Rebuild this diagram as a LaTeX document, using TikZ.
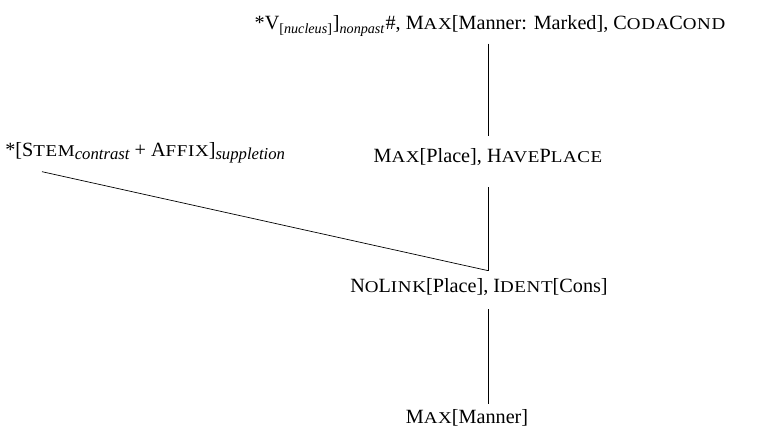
\documentclass[tikz,border=0pt]{standalone}
\usepackage{fontspec}
\setmainfont{Liberation Serif}
\newfontfamily\scpart[FakeStretch=1.15,LetterSpace=4]{Liberation Serif}
\usetikzlibrary{positioning}

% fake small caps: first letter full size, rest smaller
\newcommand{\fsc}[2]{#1{\scpart\fontsize{9.4}{10}\selectfont #2}}
% bigger italic subscript
\newcommand{\bsub}[1]{\raisebox{-0.3ex}{\fontsize{9.5}{10}\selectfont\itshape #1}}

\begin{document}
\begin{tikzpicture}[x=0.02cm, y=-0.02cm, every node/.style={inner sep=0pt, font=\fontsize{11.5}{13}\selectfont}]
\useasboundingbox (0,0) rectangle (760,432);
\node[anchor=base] (top) at (490,30) {*V\textsubscript{[\textit{nucleus}]}]\textsubscript{\textit{nonpast}}\#, \fsc{M}{AX}[Manner: Marked], \fsc{C}{ODA}\fsc{C}{OND}};
\node[anchor=base] (place) at (488,163) {\fsc{M}{AX}[Place], \fsc{H}{AVE}\fsc{P}{LACE}};
\node[anchor=base west] (supp) at (5,157) {*[\fsc{S}{TEM}\bsub{contrast} + \fsc{A}{FFIX}]\bsub{suppletion}};
\node[anchor=base] (nolink) at (479,292) {\fsc{N}{O}\fsc{L}{INK}[Place], \fsc{I}{DENT}[Cons]};
\node[anchor=base] (manner) at (467,423) {\fsc{M}{AX}[Manner]};
\draw ([yshift=-0.14cm]place.north |- top.south) -- ([yshift=0.26cm]place.north);
\draw ([yshift=-0.42cm]place.south) -- ([yshift=0.14cm]place.south |- nolink.north);
\draw ([shift={(0.74cm,-0.16cm)}]supp.south west) -- ([yshift=0.14cm]place.south |- nolink.north);
\draw ([yshift=-0.28cm]place.south |- nolink.south) -- ([yshift=0.1cm]place.south |- manner.north);
\end{tikzpicture}
\end{document}
